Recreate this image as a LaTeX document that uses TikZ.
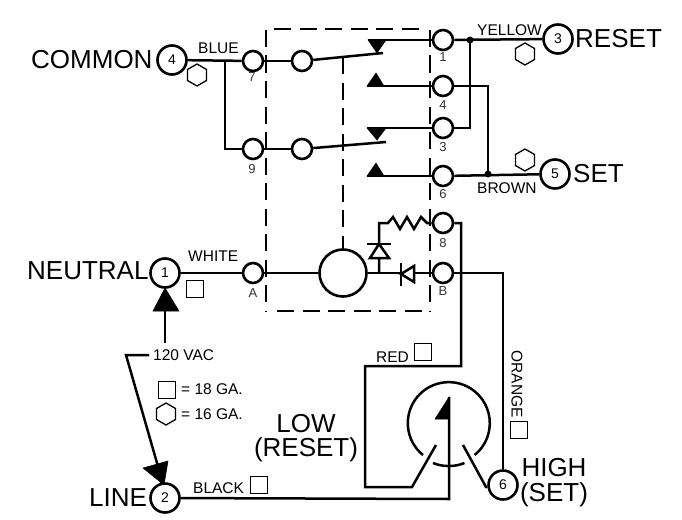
\documentclass[tikz,border=0pt]{standalone}
\usepackage{fontspec}
\setmainfont{Liberation Sans}
\usetikzlibrary{shapes.geometric}
\tikzset{
 wire/.style={line width=2.5pt,line join=miter},
 term/.style={circle,draw,line width=2.6pt,fill=white,minimum size=20pt,inner sep=0pt},
 bigterm/.style={circle,draw,line width=2.6pt,fill=white,minimum size=29pt,inner sep=0pt,font=\fontsize{14}{14}\selectfont},
 motor/.style={circle,draw,line width=2.6pt,fill=white,minimum size=47pt,inner sep=0pt},
 dashbox/.style={line width=2.5pt,dash pattern=on 17pt off 8.5pt},
 big/.style={inner sep=0pt,font=\fontsize{26}{26}\selectfont},
 mid/.style={inner sep=0pt,font=\fontsize{15.5}{15.5}\selectfont},
 tiny/.style={inner sep=0pt,font=\fontsize{13}{13}\selectfont,text=black!80},
 sq/.style={draw,line width=1.3pt,minimum size=17pt,inner sep=0pt},
 hex/.style={draw,line width=1.3pt,regular polygon,regular polygon sides=6,shape border rotate=30,minimum size=22pt,inner sep=0pt},
 dotj/.style={circle,fill=black,minimum size=7pt,inner sep=0pt},
 solidtri/.style={fill=black,draw=black,line width=0.5pt,line join=miter},
 opentri/.style={fill=white,draw=black,line width=2.5pt,line join=miter}
}
\begin{document}
\begin{tikzpicture}[x=1pt,y=-1pt]
\useasboundingbox (0,0) rectangle (682,519);
% terminals
\node[term] (t7) at (253,61) {};
\node[term] (p7) at (302,61) {};
\node[term] (t9) at (253,149) {};
\node[term] (p9) at (302,149) {};
\node[term] (t1) at (443,40) {};
\node[term] (t4) at (443,86) {};
\node[term] (t3) at (443,128) {};
\node[term] (t6) at (443,176) {};
\node[term] (t8) at (443,223) {};
\node[term] (tB) at (443,273) {};
\node[term] (tA) at (253,273) {};
\node[motor] (mot) at (343,273) {};
\node[bigterm] (n4) at (172,60) {4};
\node[bigterm] (n3) at (558,39) {3};
\node[bigterm] (n5) at (555,174) {5};
\node[bigterm] (n1) at (165,273) {1};
\node[bigterm] (n2) at (165,498) {2};
\node[bigterm] (n6) at (503,485) {6};
% coordinates
\coordinate (jl) at (225,60);
\coordinate (jlb) at (225,149);
\coordinate (b1) at (383,53);
\coordinate (b3) at (386,142);
\coordinate (c1) at (368,40);
\coordinate (c4) at (367,86);
\coordinate (c3) at (367,128);
\coordinate (c6) at (367,176);
\coordinate (jy) at (470,128);
\coordinate (jb) at (488,86);
\coordinate (jr) at (379,223);
\coordinate (jm) at (379,273);
\coordinate (co) at (503,273);
\coordinate (cr) at (461,223);
\coordinate (r1) at (461,366);
\coordinate (r2) at (365,366);
\coordinate (r3) at (365,487);
\coordinate (r4) at (412,487);
\coordinate (r5) at (436,445);
\coordinate (h1) at (463,445);
\coordinate (h2) at (486,487);
\coordinate (pt) at (449,499);
\coordinate (ptop) at (449,397);
\coordinate (v1) at (165,343);
\coordinate (v2) at (149,355);
\coordinate (v3) at (126,355);
\coordinate (v4) at (157,463);
% wires
\draw[wire] (n4) -- (t7);
\draw[wire] (jl) -- (jlb) -- (t9);
\draw[wire] (t7) -- (p7);
\draw[wire] (t9) -- (p9);
\draw[wire] (p7) -- (b1);
\draw[wire] (p9) -- (b3);
\draw[wire] (c1) -- (t1);
\draw[wire] (c4) -- (t4);
\draw[wire] (c3) -- (t3);
\draw[wire] (c6) -- (t6);
\draw[wire] (t1) -- (n3);
\draw[wire] (t3) -- (jy) -- (470,40);
\draw[wire] (t4) -- (jb) -- (488,175);
\draw[wire] (t6) -- (n5);
\draw[wire] (n1) -- (tA);
\draw[wire] (tA) -- (mot);
\draw[wire] (mot) -- (tB);
\draw[wire] (tB) -- (co) -- (n6);
\draw[wire] (t8) -- (cr) -- (r1) -- (r2) -- (r3) -- (r4) -- (r5);
\draw[wire] (n6) -- (h2) -- (h1);
\draw[wire] (n2) -- (pt) -- (ptop);
\draw[wire] (v1) -- (n1);
\draw[wire] (v2) -- (v3) -- (v4);
\draw[wire] (v4) -- (n2);
% resistor + diodes
\draw[wire] (jm) -- (jr) -- (388,223) -- (393,217) -- (400,229) -- (407,217) -- (414,229) -- (421,217) -- (427,223) -- (t8);
\draw[opentri] (379,244) -- (370,258) -- (389,258) -- cycle;
\draw[wire] (367,244) -- (391,244);
\draw[opentri] (401,274) -- (414,266) -- (414,282) -- cycle;
\draw[wire] (401,263) -- (401,286);
% contacts
\draw[solidtri] (368,40) -- (386,40) -- (377,53) -- cycle;
\draw[solidtri] (367,86) -- (384,86) -- (376,73) -- cycle;
\draw[solidtri] (367,128) -- (386,128) -- (377,140) -- cycle;
\draw[solidtri] (367,176) -- (384,176) -- (376,163) -- cycle;
% dashed housing
\draw[dashbox] (266,30) -- (266,311);
\draw[dashbox] (274,29) -- (425,29);
\draw[dashbox] (430,30) -- (430,311);
\draw[dashbox] (277,311) -- (425,311);
\draw[dashbox] (343,57) -- (343,251);
% dots
\node[dotj] (d1) at (470,40) {};
\node[dotj] (d2) at (488,174) {};
% dial
\draw[line width=2.5pt] (423,455) arc[start angle=129,end angle=411,radius=41];
\draw[line width=2.5pt] (433,463) arc[start angle=112,end angle=68,radius=42];
\draw[solidtri] (449,397) -- (435,419) -- (449,419) -- cycle;
% big arrowheads
\draw[solidtri] (165,288) -- (153,311) -- (179,311) -- cycle;
\draw[solidtri] (164,485) -- (143,468) -- (168,461) -- cycle;
% big labels
\node[big,anchor=west] (lc) at (31,60) {COMMON};
\node[big,anchor=west] (lr) at (575,39) {RESET};
\node[big,anchor=west] (ls) at (573,174) {SET};
\node[big,anchor=west] (ln) at (27,271) {NEUTRAL};
\node[big,anchor=west] (ll) at (89,498) {LINE};
\node[big] (llow) at (306,424) {LOW};
\node[big] (lres) at (306,450) {(RESET)};
\node[big] (lhi) at (554,468) {HIGH};
\node[big] (lset) at (554,495) {(SET)};
% wire labels
\node[mid,anchor=west] (wb) at (198,48) {BLUE};
\node[mid,anchor=west] (wy) at (477,30) {YELLOW};
\node[mid,anchor=west] (wbr) at (477,188) {BROWN};
\node[mid,anchor=west] (ww) at (188,256) {WHITE};
\node[mid,anchor=west] (vac) at (153,355) {120 VAC};
\node[mid,anchor=west] (wr) at (376,357) {RED};
\node[mid,anchor=west] (wbl) at (193,488) {BLACK};
\node[mid,rotate=-90] (wo) at (517,384) {ORANGE};
\node[mid,anchor=west] (g18) at (181,389) {= 18 GA.};
\node[mid,anchor=west] (g16) at (181,414) {= 16 GA.};
% terminal labels
\node[tiny] (l7) at (252,77) {7};
\node[tiny] (l9) at (252,169) {9};
\node[tiny] (l1) at (443,57) {1};
\node[tiny] (l4) at (443,105) {4};
\node[tiny] (l3) at (443,147) {3};
\node[tiny] (l6) at (443,194) {6};
\node[tiny] (l8) at (443,243) {8};
\node[tiny] (lB) at (443,291) {B};
\node[tiny] (lA) at (253,293) {A};
% gauge symbols
\node[hex] (h4) at (197,75) {};
\node[hex] (h3) at (525,54) {};
\node[hex] (h5) at (525,160) {};
\node[hex] (hl) at (166,414) {};
\node[sq] (s1) at (195,289) {};
\node[sq] (sl) at (167,390) {};
\node[sq] (sr) at (423,352) {};
\node[sq] (so) at (519,430) {};
\node[sq] (sb) at (259,485) {};
\end{tikzpicture}
\end{document}
